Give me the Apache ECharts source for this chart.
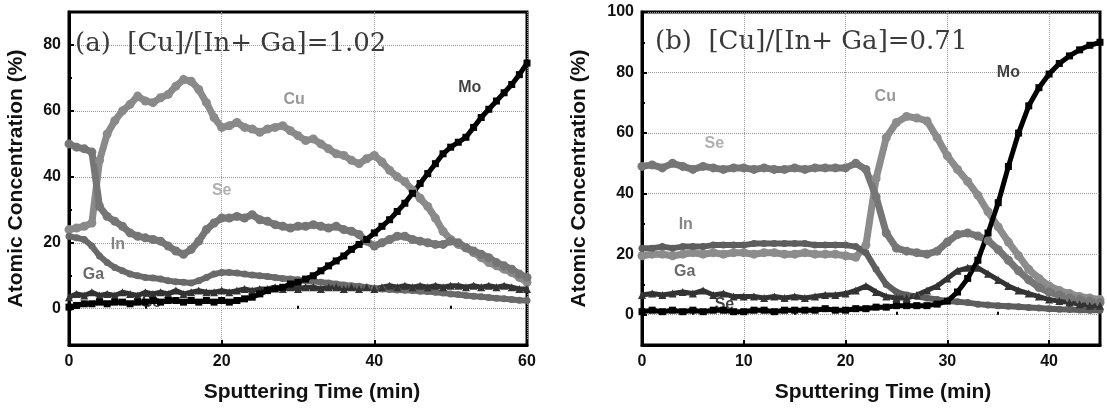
<!DOCTYPE html>
<html>
<head>
<meta charset="utf-8">
<script src="https://cdn.jsdelivr.net/npm/echarts@6/dist/echarts.min.js"></script>
<style>
  html, body { margin: 0; padding: 0; background: #fff; }
  #chart { width: 1107px; height: 408px; }
</style>
</head>
<body>
<div id="chart"></div>
<script>
// panel (a): [Cu]/[In+Ga]=1.02, sputtering time 0-60 min
const timeA = [0,1,2,3,4,5,6,7,8,9,10,11,12,13,14,15,16,17,18,19,20,21,22,23,24,25,26,27,28,29,30,
  31,32,33,34,35,36,37,38,39,40,41,42,43,44,45,46,47,48,49,50,51,52,53,54,55,56,57,58,59,60]
const cuA = [24,24.5,25,26,45,53,57,60,62,64.5, 63,62.5,64,65,67.5,69.5,69,66.5,62.5,58,
  55,55.5,56.5,55,54.5,53.5,54.5,55,55.5,54, 52.5,51,51.5,50,48.5,47,46.5,45,44,45.5,
  46.5,44.5,42,40,38.5,36,33.5,31,27.5,23.5, 21,19.5,18.5,17,15.5,14,13,12,11,9.5,8]
const seA = [50,49,48.5,47.5,31,28,26.5,25,23,22, 21.5,21,20.5,19,17.5,16.5,18,20.5,24,26,
  27.5,27.5,28,27.5,28.5,27,26.5,25.5,25,24.5, 25,25,25.5,25,24.5,25,24,23.5,22.5,20.5,
  19,20,21,22,22,21,20.5,20,19.5,19.5, 20.5,20,18.5,17.5,16.5,15.5,14,13,12,10.5,9.5]
const inA = [22,21.5,21,19,16,14,12.5,11.5,10.5,10, 9.5,9.3,9,8.5,8.2,8,7.8,8.5,9.5,10.5,
  11,11,10.8,10.5,10.2,10,9.8,9.5,9.2,9, 8.8,8.5,8.3,8,7.8,7.5,7.2,7,6.8,6.5,
  6.2,6,5.8,5.7,5.6,5.5,5.3,5.2,5,4.8, 4.5,4.3,4,3.8,3.6,3.4,3.2,3,2.8,2.6,2.5]
const gaA = [3.5,4.5,4,5,4,4.5,4,5,4.5,4, 5,4.5,5,4.5,5.5,4.5,5,5.5,5,5,
  5.5,5,5.5,6,5.5,6,6,6.5,6,6.5, 6,6.5,6.5,6,6.5,6.5,6,6.5,6,6.5,
  6,6.5,7,6.5,7,6.5,7,6.5,7,6.5, 7,7,6.5,7,6.5,7,6.5,7,6.5,6,6]
const moA = [0.5,1,1.5,1.5,2,1.5,2,2,1.5,2, 2,2.5,2,2.5,2.5,2,2.5,2,2.5,2,
  2.5,2,2.5,3,3.5,4.5,5.5,6,6.5,7.5, 8,9,10,11.5,13,14.5,16,18,19.5,21,
  23,25,27,29.5,32,35,38,41,44,47, 49,50.5,52,55,58,60.5,63,65.5,68,71,74.5]

// panel (b): [Cu]/[In+Ga]=0.71, sputtering time 0-45 min
const timeB = [0,1,2,3,4,5,6,7,8,9,10,11,12,13,14,15,16,17,18,19,20,21,22,
  23,24,25,26,27,28,29,30,31,32,33,34,35,36,37,38,39,40,41,42,43,44,45]
const seB = [49,49.5,48.5,50,49,48,49,48.5,48,48.5, 48.5,48,48.5,48,48,48.5,48,48.5,48.5,48.5,
  48.5,50,48,39,27,22,21,20.5,20,21, 24,26.5,27,26,24.5,21.5,18,14.5,11.5,9, 7.5,6.5,5.5,5,4.5,4]
const cuB = [19.5,20,20,19.5,20,20.5,20,20.5,20,20.5, 20.5,20,20.5,20.5,20,20,20.5,20,20,20,
  19.5,19,23,45,58.5,63.5,65.5,65,64,58.5, 52.5,48,44,39.5,34,29,24,19.5,15,12, 9.5,8,7,6,5.5,5]
const inB = [22,22,22.5,22,22.5,22.5,22.5,23,23,23, 23,23.5,23.5,23.5,23.5,23.5,23.5,23,23,23,
  23,22.5,20.5,15,10,7.5,6.5,6,5.5,5, 4.5,4.3,4,3.5,3.2,3,2.8,2.6,2.4,2.2, 2,1.8,1.7,1.6,1.5,1.5]
const gaB = [6.5,7,6.5,7,7.5,7,8,6.5,7,6, 6,6,5.5,6,5.5,6,5.5,6,6.5,6.5,
  7,8,9.5,7.5,6,5.5,5.5,6.5,8,9.5, 12,14.5,15.5,15.5,13.5,11.5,9.5,8,7,6, 5,4.5,4,3.5,3,3]
const moB = [1,1.5,1,1.5,1,1.5,1,1.5,1.5,1, 1,1.5,1.5,1,1.5,1.5,1.5,1.5,2,1.5,
  1.5,2,2,2.5,2.5,3,3,3,3,3.5, 4.5,7.5,12,18,27,37,49,60,69,75, 79.5,83,85.5,87.5,89,90]

// tick values
const xTicksA = [0, 20, 40, 60]
const xMinorA = [10, 30, 50]
const yTicksA = [0, 20, 40, 60, 80]
const yMinorA = [10, 30, 50, 70]
const xTicksB = [0, 10, 20, 30, 40]
const xMinorB = [5, 15, 25, 35]
const yTicksB = [0, 20, 40, 60, 80, 100]
const yMinorB = [10, 30, 50, 70, 90]

// element labels inside the plots [text, time, concentration, tone]
const labelsA = [['Cu', 29.5, 63.5, 'cu'], ['Se', 20, 35.8, 'se'], ['In', 6.4, 19.4, 'in'],
  ['Ga', 3.2, 10.4, 'ga'], ['Se', 10.8, 1.8, 'dark'], ['Mo', 52.5, 67, 'dark']]
const labelsB = [['Se', 7.1, 56.4, 'se'], ['Cu', 23.9, 72, 'cu'], ['Mo', 36, 80, 'dark'],
  ['In', 4.3, 29.7, 'in'], ['Ga', 4.2, 14.4, 'ga'], ['Se', 8.1, 3.5, 'dark']]

const toneColor = { cu: '#7f7f7f', se: '#9c9c9c', in: '#666', ga: '#444', dark: '#111' }
const sans = 'Liberation Sans, Arial, sans-serif'

const chart = echarts.init(document.getElementById('chart'))

function pairs (times, vals) {
  return vals.map((v, i) => [times[i], v])
}

function curve (name, times, vals, color, symbol, size, width, g) {
  return {
    name: name,
    type: 'line',
    xAxisIndex: g * 2,
    yAxisIndex: g * 2,
    data: pairs(times, vals),
    symbol: symbol,
    symbolSize: size,
    showSymbol: true,
    itemStyle: { color: color },
    lineStyle: { color: color, width: width },
    silent: true,
    z: 3
  }
}

function labelSeries (labels, g) {
  return {
    type: 'scatter',
    xAxisIndex: g * 2,
    yAxisIndex: g * 2,
    symbol: 'circle',
    symbolSize: 1,
    itemStyle: { color: 'transparent' },
    silent: true,
    z: 2,
    label: { show: true, position: 'inside', fontFamily: sans, fontWeight: 'bold', fontSize: 16 },
    data: labels.map(l => ({
      value: [l[1], l[2]],
      label: { formatter: l[0], color: toneColor[l[3]] }
    }))
  }
}

function xAxes (g, max, ticks, minor, namePad) {
  return [{
    gridIndex: g,
    type: 'value',
    min: 0,
    max: max,
    position: 'bottom',
    axisLine: { show: true, onZero: false, lineStyle: { color: '#000', width: 3 } },
    axisTick: { show: true, inside: true, length: 5, customValues: ticks, lineStyle: { color: '#000', width: 2 } },
    axisLabel: { customValues: ticks, color: '#111', fontFamily: sans, fontWeight: 'bold', fontSize: 16, margin: 9 },
    splitLine: { show: true, lineStyle: { color: '#9a9a9a', type: 'dotted', width: 1 } },
    name: 'Sputtering Time (min)',
    nameLocation: 'middle',
    nameGap: 37,
    nameTextStyle: { color: '#111', fontFamily: sans, fontWeight: 'bold', fontSize: 21, padding: [0, 0, 0, namePad] }
  }, {
    gridIndex: g,
    type: 'value',
    min: 0,
    max: max,
    position: 'bottom',
    axisLine: { show: false },
    axisTick: { show: true, inside: true, length: 3, customValues: minor, lineStyle: { color: '#000', width: 2 } },
    axisLabel: { show: false },
    splitLine: { show: false }
  }]
}

function yAxes (g, min, max, ticks, minor, gap) {
  return [{
    gridIndex: g,
    type: 'value',
    min: min,
    max: max,
    position: 'left',
    axisLine: { show: true, onZero: false, lineStyle: { color: '#000', width: 3 } },
    axisTick: { show: true, inside: true, length: 5, customValues: ticks, lineStyle: { color: '#000', width: 2 } },
    axisLabel: { customValues: ticks, color: '#111', fontFamily: sans, fontWeight: 'bold', fontSize: 16, margin: 8 },
    splitLine: { show: true, lineStyle: { color: '#9a9a9a', type: 'dotted', width: 1 } },
    name: 'Atomic Concentration (%)',
    nameLocation: 'middle',
    nameGap: gap,
    nameTextStyle: { color: '#111', fontFamily: sans, fontWeight: 'bold', fontSize: 21 }
  }, {
    gridIndex: g,
    type: 'value',
    min: min,
    max: max,
    position: 'left',
    axisLine: { show: false },
    axisTick: { show: true, inside: true, length: 3, customValues: minor, lineStyle: { color: '#000', width: 2 } },
    axisLabel: { show: false },
    splitLine: { show: false }
  }]
}

const titleStyle = { fontFamily: 'DejaVu Serif, serif', fontSize: 26, fontWeight: 'normal', color: '#3a3a3a' }

const option = {
  animation: false,
  backgroundColor: '#fff',
  title: [
    { text: '(a)  [Cu]/[In+ Ga]=1.02', left: 75, top: 31, padding: 0, textStyle: titleStyle },
    { text: '(b)  [Cu]/[In+ Ga]=0.71', left: 655, top: 29, padding: 0, textStyle: titleStyle }
  ],
  grid: [
    { left: 69, top: 12, width: 458, height: 337, show: true, borderColor: '#000', borderWidth: 3, backgroundColor: 'transparent' },
    { left: 642, top: 12, width: 458, height: 338, show: true, borderColor: '#000', borderWidth: 3, backgroundColor: 'transparent' }
  ],
  xAxis: [].concat(xAxes(0, 60, xTicksA, xMinorA, 28), xAxes(1, 45, xTicksB, xMinorB, 24)),
  yAxis: [].concat(yAxes(0, -11, 90, yTicksA, yMinorA, 42), yAxes(1, -10, 100, yTicksB, yMinorB, 52)),
  series: [
    labelSeries(labelsA, 0),
    curve('Cu', timeA, cuA, '#8a8a8a', 'circle', 9, 7, 0),
    curve('Se', timeA, seA, '#767676', 'circle', 9, 7, 0),
    curve('In', timeA, inA, '#6a6a6a', 'circle', 7, 6, 0),
    curve('Ga', timeA, gaA, '#333333', 'triangle', 8, 5, 0),
    curve('Mo', timeA, moA, '#000000', 'rect', 7, 5, 0),
    labelSeries(labelsB, 1),
    curve('Cu', timeB, cuB, '#8c8c8c', 'circle', 9, 7, 1),
    curve('Se', timeB, seB, '#767676', 'circle', 9, 7, 1),
    curve('In', timeB, inB, '#5e5e5e', 'circle', 7, 6, 1),
    curve('Ga', timeB, gaB, '#333333', 'triangle', 8, 5, 1),
    curve('Mo', timeB, moB, '#000000', 'rect', 7, 5, 1)
  ]
}

chart.setOption(option)
</script>
</body>
</html>
